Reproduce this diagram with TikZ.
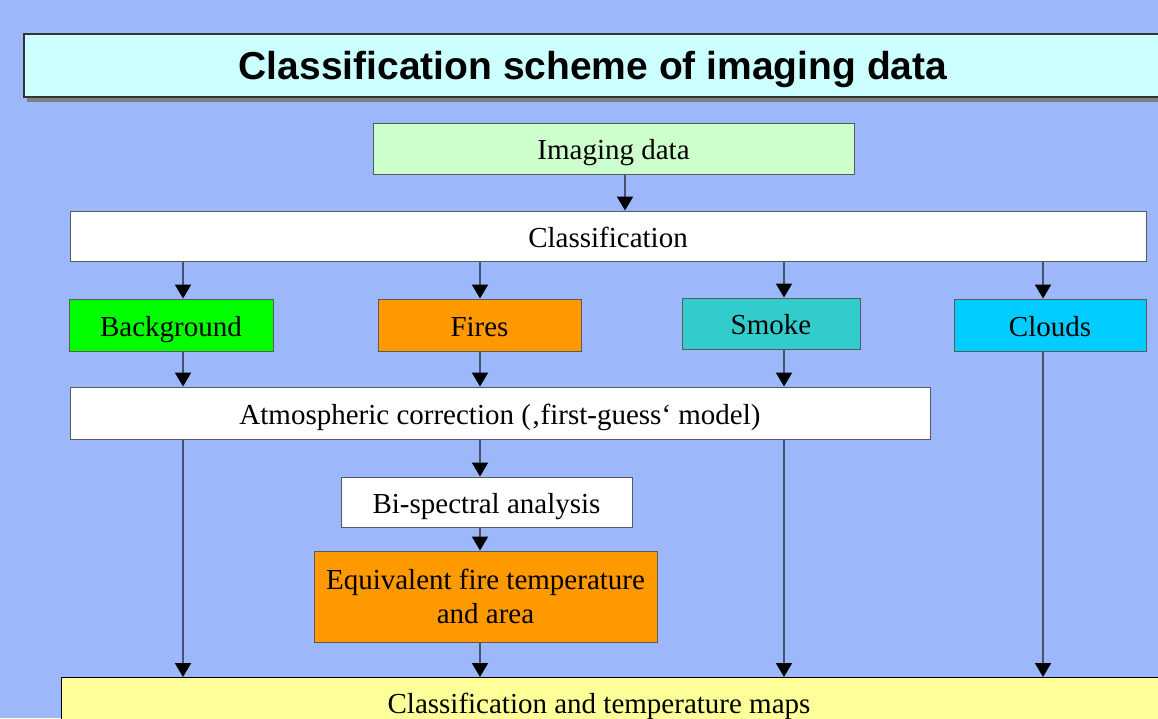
\documentclass[tikz,border=0pt]{standalone}
\usepackage{fontspec}
\setmainfont{Liberation Serif}
\newfontfamily\titlefont{Liberation Sans}
\usepackage{xcolor}
\usepackage{tikz}
\usetikzlibrary{arrows.meta, shadows}
\definecolor{slidebg}{RGB}{156,183,250}
\definecolor{titlefill}{RGB}{204,255,255}
\definecolor{datafill}{RGB}{204,255,204}
\definecolor{bgfill}{RGB}{0,255,0}
\definecolor{firefill}{RGB}{255,153,0}
\definecolor{smokefill}{RGB}{51,204,204}
\definecolor{cloudfill}{RGB}{0,204,255}
\definecolor{mapfill}{RGB}{255,255,153}
\definecolor{linkcol}{RGB}{70,82,110}
\tikzset{
>={Triangle[width=16pt,length=14pt,black]},
box/.style={%
    rectangle,
    inner sep=0pt,
    draw=black!65,
    line width=1pt,
    fill=white,
    font=\fontsize{29}{34}\selectfont,
    align=center
},
oneline/.style={text height=24pt, text depth=2pt},
titlebox/.style={%
    box, fill=titlefill, draw=black!80, line width=1.5pt,
    drop shadow={shadow xshift=3pt, shadow yshift=-5pt, fill=black!50, opacity=1},
    font=\titlefont\fontsize{39}{44}\bfseries
},
link/.style={->, draw=linkcol, line width=2pt},
}

\begin{document}
\begin{tikzpicture}[x=1pt, y=-1pt]
	\fill[slidebg] (0,0) rectangle (1158,718);
	\clip (0,0) rectangle (1158,718);

	\node[titlebox, text height=28pt, text depth=1pt, minimum width=1138pt, minimum height=63pt] at (593,65.5) (title) {Classification scheme of imaging data};

	\node[box, oneline, fill=datafill, minimum width=481pt, minimum height=51pt] at (613.5,148.5) (data) {Imaging data};
	\node[box, oneline, minimum width=1076pt, minimum height=50pt] at (608,236) (class) {Classification};

	\node[box, oneline, fill=bgfill, minimum width=204pt, minimum height=52pt] at (171,325) (bg) {Background};
	\node[box, oneline, fill=firefill, minimum width=203pt, minimum height=52pt] at (479.5,325) (fires) {Fires};
	\node[box, oneline, fill=smokefill, minimum width=178pt, minimum height=51pt] at (771,323.5) (smoke) {Smoke};
	\node[box, oneline, fill=cloudfill, minimum width=192pt, minimum height=52pt] at (1050,325) (clouds) {Clouds};

	\node[box, oneline, minimum width=860pt, minimum height=52pt] at (500,413) (atmos) {Atmospheric correction (‚first-guess‘ model)};
	\node[box, oneline, minimum width=291pt, minimum height=50pt] at (486.5,502) (bispec) {Bi-spectral analysis};
	\node[box, fill=firefill, minimum width=343pt, minimum height=91pt] at (485.5,596.5) (equiv) {Equivalent fire temperature\\and area};

	\node[box, fill=mapfill, draw=black, minimum width=1130pt, minimum height=60pt, anchor=north west] at (61,677) (maps) {};
	\node[font=\fontsize{29}{34}\selectfont, oneline, inner sep=0pt] at (599,702) (mapstext) {Classification and temperature maps};

	% columns of the connectors
	\coordinate (c0) at (625,0);
	\coordinate (c1) at (183,0);
	\coordinate (c2) at (480,0);
	\coordinate (c3) at (784,0);
	\coordinate (c4) at (1043,0);

	\draw[link] (data.south -| c0) -- (class.north -| c0);
	\draw[link] (class.south -| c1) -- (bg.north -| c1);
	\draw[link] (class.south -| c2) -- (fires.north -| c2);
	\draw[link] (class.south -| c3) -- (smoke.north -| c3);
	\draw[link] (class.south -| c4) -- (clouds.north -| c4);

	\draw[link] (bg.south -| c1) -- (atmos.north -| c1);
	\draw[link] (fires.south -| c2) -- (atmos.north -| c2);
	\draw[link] (smoke.south -| c3) -- (atmos.north -| c3);

	\draw[link] (atmos.south -| c2) -- (bispec.north -| c2);
	\draw[link] (bispec.south -| c2) -- (equiv.north -| c2);

	\draw[link] (atmos.south -| c1) -- (maps.north -| c1);
	\draw[link] (equiv.south -| c2) -- (maps.north -| c2);
	\draw[link] (atmos.south -| c3) -- (maps.north -| c3);
	\draw[link] (clouds.south -| c4) -- (maps.north -| c4);
\end{tikzpicture}
\end{document}
